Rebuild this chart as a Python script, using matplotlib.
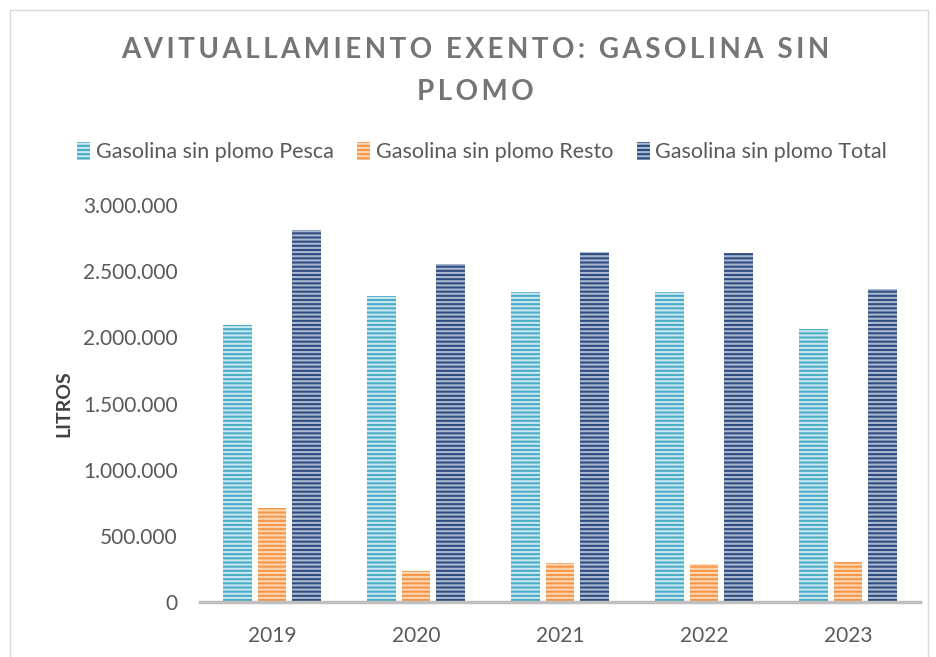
import numpy as np
import matplotlib.pyplot as plt
from matplotlib.patches import Rectangle
from matplotlib.ticker import FuncFormatter

plt.rcParams['font.family'] = ['Lato', 'DejaVu Sans']
plt.rcParams['hatch.linewidth'] = 1.5

# Datos (litros)
years = ['2019', '2020', '2021', '2022', '2023']
pesca = [2093000, 2312000, 2343000, 2343000, 2063000]
resto = [710000, 234000, 295000, 285000, 302000]
total = [2811000, 2554000, 2645000, 2640000, 2365000]
series_names = ['Gasolina sin plomo Pesca', 'Gasolina sin plomo Resto', 'Gasolina sin plomo Total']

colors = ['#4BACC6', '#F79646', '#2E4D7E']
stripe = ['#C8E7F0', '#FCD6B5', '#A9B8D2']

fig = plt.figure(figsize=(9.36, 6.57), dpi=100)
# marco del gráfico
fig.patches.append(Rectangle((10 / 936, -0.01), 918 / 936, 1 - 10 / 657 + 0.01,
                             transform=fig.transFigure, fill=False,
                             edgecolor='#D9D9D9', linewidth=1))

ax = fig.add_axes([200 / 936, 55 / 657, 720 / 936, 397 / 657])

x = np.arange(len(years))
offsets = [-0.24, 0, 0.24]
for vals, off, c, s, name in zip([pesca, resto, total], offsets, colors, stripe, series_names):
    ax.bar(x + off, vals, width=0.2, color=c, edgecolor=s, hatch='----',
           linewidth=0, label=name)

ax.set_xlim(-0.5, 4.5)
ax.set_ylim(0, 3000000)
ax.set_yticks(np.arange(0, 3000001, 500000))
ax.yaxis.set_major_formatter(FuncFormatter(lambda v, p: f'{int(v):,}'.replace(',', '.')))
ax.set_xticks(x)
ax.set_xticklabels(years)
ax.tick_params(axis='both', length=0, labelsize=15, colors='#595959')
ax.tick_params(axis='y', pad=16)
ax.tick_params(axis='x', pad=17)

for side in ['top', 'right', 'left']:
    ax.spines[side].set_visible(False)
ax.spines['bottom'].set_color('#BFBFBF')
ax.spines['bottom'].set_linewidth(2.5)

ax.set_ylabel('LITROS', fontsize=14, fontweight='bold', color='#404040', labelpad=8)

# título con espaciado entre letras
def spaced(t):
    return '\u2009'.join(t)

fig.text(0.508, 1 - 50 / 657, spaced('AVITUALLAMIENTO EXENTO: GASOLINA SIN'),
         ha='center', va='center', fontsize=20, fontweight='bold', color='#757575')
fig.text(0.508, 1 - 92 / 657, spaced('PLOMO'),
         ha='center', va='center', fontsize=20, fontweight='bold', color='#757575')

fig.legend(loc='center', bbox_to_anchor=(0.515, 1 - 152 / 657), ncol=3, frameon=False,
           fontsize=15.5, labelcolor='#595959', handlelength=0.6, handleheight=0.9,
           handletextpad=0.25, columnspacing=1.1)

fig.savefig('out.png', dpi=100)
